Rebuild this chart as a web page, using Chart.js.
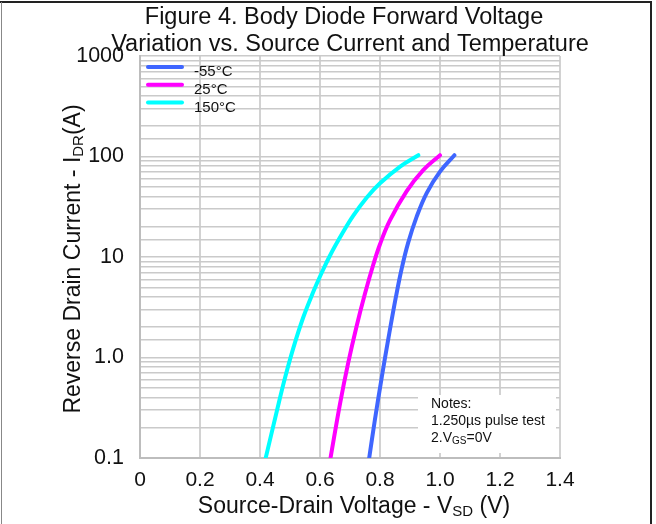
<!DOCTYPE html>
<html>
<head>
<meta charset="utf-8">
<script src="https://cdn.jsdelivr.net/npm/chart.js@4"></script>
<style>
  html, body { margin: 0; padding: 0; background: #ffffff; }
  #wrap { position: relative; width: 656px; height: 524px; }
</style>
</head>
<body>
<div id="wrap"><canvas id="c" width="656" height="524"></canvas></div>
<script>
// Series labels and colours
const seriesLabels = ['-55°C', '25°C', '150°C'];
const seriesColors = ['#3f66ff', '#ff00ff', '#00ffff'];

// Source-drain voltage (V) and reverse drain current (A) for each temperature
const vsdMinus55 = [0.764, 0.783, 0.806, 0.828, 0.853, 0.872, 0.894, 0.922, 0.956, 1.000, 1.048];
const idrMinus55 = [0.1, 0.24, 0.64, 1.55, 4.0, 7.6, 13.9, 25.1, 43.5, 70.7, 103];

const vsd25 = [0.635, 0.667, 0.694, 0.722, 0.750, 0.778, 0.800, 0.833, 0.889, 0.944, 1.000];
const idr25 = [0.1, 0.35, 0.885, 2.05, 4.33, 8.47, 13.4, 23.1, 45.2, 73.1, 103];

const vsd150 = [0.419, 0.456, 0.483, 0.511, 0.544, 0.578, 0.600, 0.633, 0.678, 0.711, 0.756, 0.800, 0.867, 0.928];
const idr150 = [0.1, 0.292, 0.62, 1.24, 2.5, 4.53, 6.4, 10.3, 17.9, 25.8, 39.1, 54.1, 79.4, 103];

// Axis tick labels
const xTickValues = [0, 0.2, 0.4, 0.6, 0.8, 1.0, 1.2, 1.4];
const xTickLabels = ['0', '0.2', '0.4', '0.6', '0.8', '1.0', '1.2', '1.4'];
const yTickValues = [0.1, 1, 10, 100, 1000];
const yTickLabels = ['0.1', '1.0', '10', '100', '1000'];

// Text
const titleLines = ['Figure 4. Body Diode Forward Voltage', 'Variation vs. Source Current and Temperature'];
const notesLines = ['Notes:', '1.250µs pulse test'];

const FONT = '"Liberation Sans", Arial, Helvetica, sans-serif';

function toPoints(xs, ys) {
  return xs.map((x, i) => ({ x: x, y: ys[i] }));
}

const datasets = [
  toPoints(vsdMinus55, idrMinus55),
  toPoints(vsd25, idr25),
  toPoints(vsd150, idr150)
].map((pts, i) => ({
  label: seriesLabels[i],
  data: pts,
  borderColor: seriesColors[i],
  backgroundColor: seriesColors[i],
  borderWidth: 4,
  pointRadius: 0,
  fill: false,
  tension: 0.4,
  borderCapStyle: 'round',
  borderJoinStyle: 'round'
}));

// Draws text pieces in a row, with optional subscripts
function drawRich(ctx, parts, x, y, align) {
  let total = 0;
  parts.forEach(p => { ctx.font = p.font; total += ctx.measureText(p.text).width; });
  let cx = align === 'center' ? x - total / 2 : x;
  parts.forEach(p => {
    ctx.font = p.font;
    ctx.fillText(p.text, cx, y + (p.dy || 0));
    cx += ctx.measureText(p.text).width;
  });
}

const decorations = {
  id: 'decorations',
  beforeDraw(chart) {
    const ctx = chart.ctx;
    ctx.save();
    ctx.fillStyle = '#ffffff';
    ctx.fillRect(0, 0, chart.width, chart.height);
    ctx.restore();
  },
  afterDatasetsDraw(chart) {
    const ctx = chart.ctx;
    const area = chart.chartArea;
    ctx.save();

    // Notes panel in the lower right corner of the plot
    ctx.fillStyle = '#ffffff';
    ctx.fillRect(418, 395, 138, 58);
    ctx.fillStyle = '#111111';
    ctx.textAlign = 'left';
    ctx.textBaseline = 'alphabetic';
    ctx.font = '14px ' + FONT;
    ctx.fillText(notesLines[0], 431, 408);
    ctx.fillText(notesLines[1], 431, 425);
    drawRich(ctx, [
      { text: '2.V', font: '14px ' + FONT },
      { text: 'GS', font: '10px ' + FONT, dy: 2 },
      { text: '=0V', font: '14px ' + FONT }
    ], 431, 442, 'left');

    // Legend inside the plot, top left
    chart.data.datasets.forEach((ds, i) => {
      const ly = 67 + i * 17.8;
      ctx.strokeStyle = ds.borderColor;
      ctx.lineWidth = 4;
      ctx.lineCap = 'round';
      ctx.beginPath();
      ctx.moveTo(148, ly);
      ctx.lineTo(182, ly);
      ctx.stroke();
      ctx.fillStyle = '#111111';
      ctx.font = '15px ' + FONT;
      ctx.fillText(ds.label, 194, ly + 9);
    });

    // Title, centred over the plot
    const midX = (area.left + area.right) / 2;
    ctx.fillStyle = '#111111';
    ctx.textAlign = 'center';
    ctx.font = '23.5px ' + FONT;
    ctx.fillText(titleLines[0], midX - 6, 24);
    ctx.fillText(titleLines[1], midX, 51);

    // X axis title
    ctx.textAlign = 'left';
    drawRich(ctx, [
      { text: 'Source-Drain Voltage - V', font: '23px ' + FONT },
      { text: 'SD', font: '15px ' + FONT, dy: 3 },
      { text: ' (V)', font: '23px ' + FONT }
    ], midX + 4, 513, 'center');

    // Y axis title, rotated
    const midY = (area.top + area.bottom) / 2;
    ctx.translate(80, midY + 2);
    ctx.rotate(-Math.PI / 2);
    drawRich(ctx, [
      { text: 'Reverse Drain Current - I', font: '23px ' + FONT },
      { text: 'DR', font: '15px ' + FONT, dy: 3 },
      { text: '(A)', font: '23px ' + FONT }
    ], 0, 0, 'center');
    ctx.restore();

    // Outer frame
    ctx.save();
    ctx.strokeStyle = '#222222';
    ctx.lineWidth = 2;
    ctx.beginPath();
    ctx.moveTo(0, 2);
    ctx.lineTo(652, 2);
    ctx.moveTo(651, 2);
    ctx.lineTo(651, chart.height);
    ctx.stroke();
    ctx.strokeStyle = '#888888';
    ctx.lineWidth = 1;
    ctx.beginPath();
    ctx.moveTo(1.5, 2);
    ctx.lineTo(1.5, chart.height);
    ctx.stroke();
    ctx.restore();
  }
};

function labelFor(values, labels, v) {
  for (let i = 0; i < values.length; i++) {
    if (Math.abs(values[i] - v) < 1e-6 * Math.max(1, values[i])) return labels[i];
  }
  return '';
}

new Chart(document.getElementById('c'), {
  type: 'line',
  data: { datasets: datasets },
  options: {
    responsive: false,
    animation: false,
    devicePixelRatio: 1,
    layout: { padding: { left: 0, right: 96, top: 56, bottom: 0 } },
    plugins: {
      legend: { display: false },
      title: { display: false },
      tooltip: { enabled: false }
    },
    scales: {
      x: {
        type: 'linear',
        min: 0,
        max: 1.4,
        afterFit(scale) { scale.height = 66; },
        afterBuildTicks(scale) {
          scale.ticks = xTickValues.map(v => ({ value: v }));
        },
        ticks: {
          autoSkip: false,
          maxRotation: 0,
          padding: 10,
          color: '#111111',
          font: { family: FONT, size: 21 },
          callback: (v) => labelFor(xTickValues, xTickLabels, v)
        },
        grid: { color: '#d2d2d2', lineWidth: 2, drawTicks: false },
        border: { color: '#bdbdbd', width: 2 }
      },
      y: {
        type: 'logarithmic',
        min: 0.1,
        max: 1000,
        afterFit(scale) { scale.width = 140; },
        ticks: {
          autoSkip: false,
          padding: 16,
          color: '#111111',
          font: { family: FONT, size: 21.5 },
          callback: (v) => labelFor(yTickValues, yTickLabels, v)
        },
        grid: { color: '#cacaca', lineWidth: 1.5, drawTicks: false },
        border: { color: '#bdbdbd', width: 2 }
      }
    }
  },
  plugins: [decorations]
});
</script>
</body>
</html>
